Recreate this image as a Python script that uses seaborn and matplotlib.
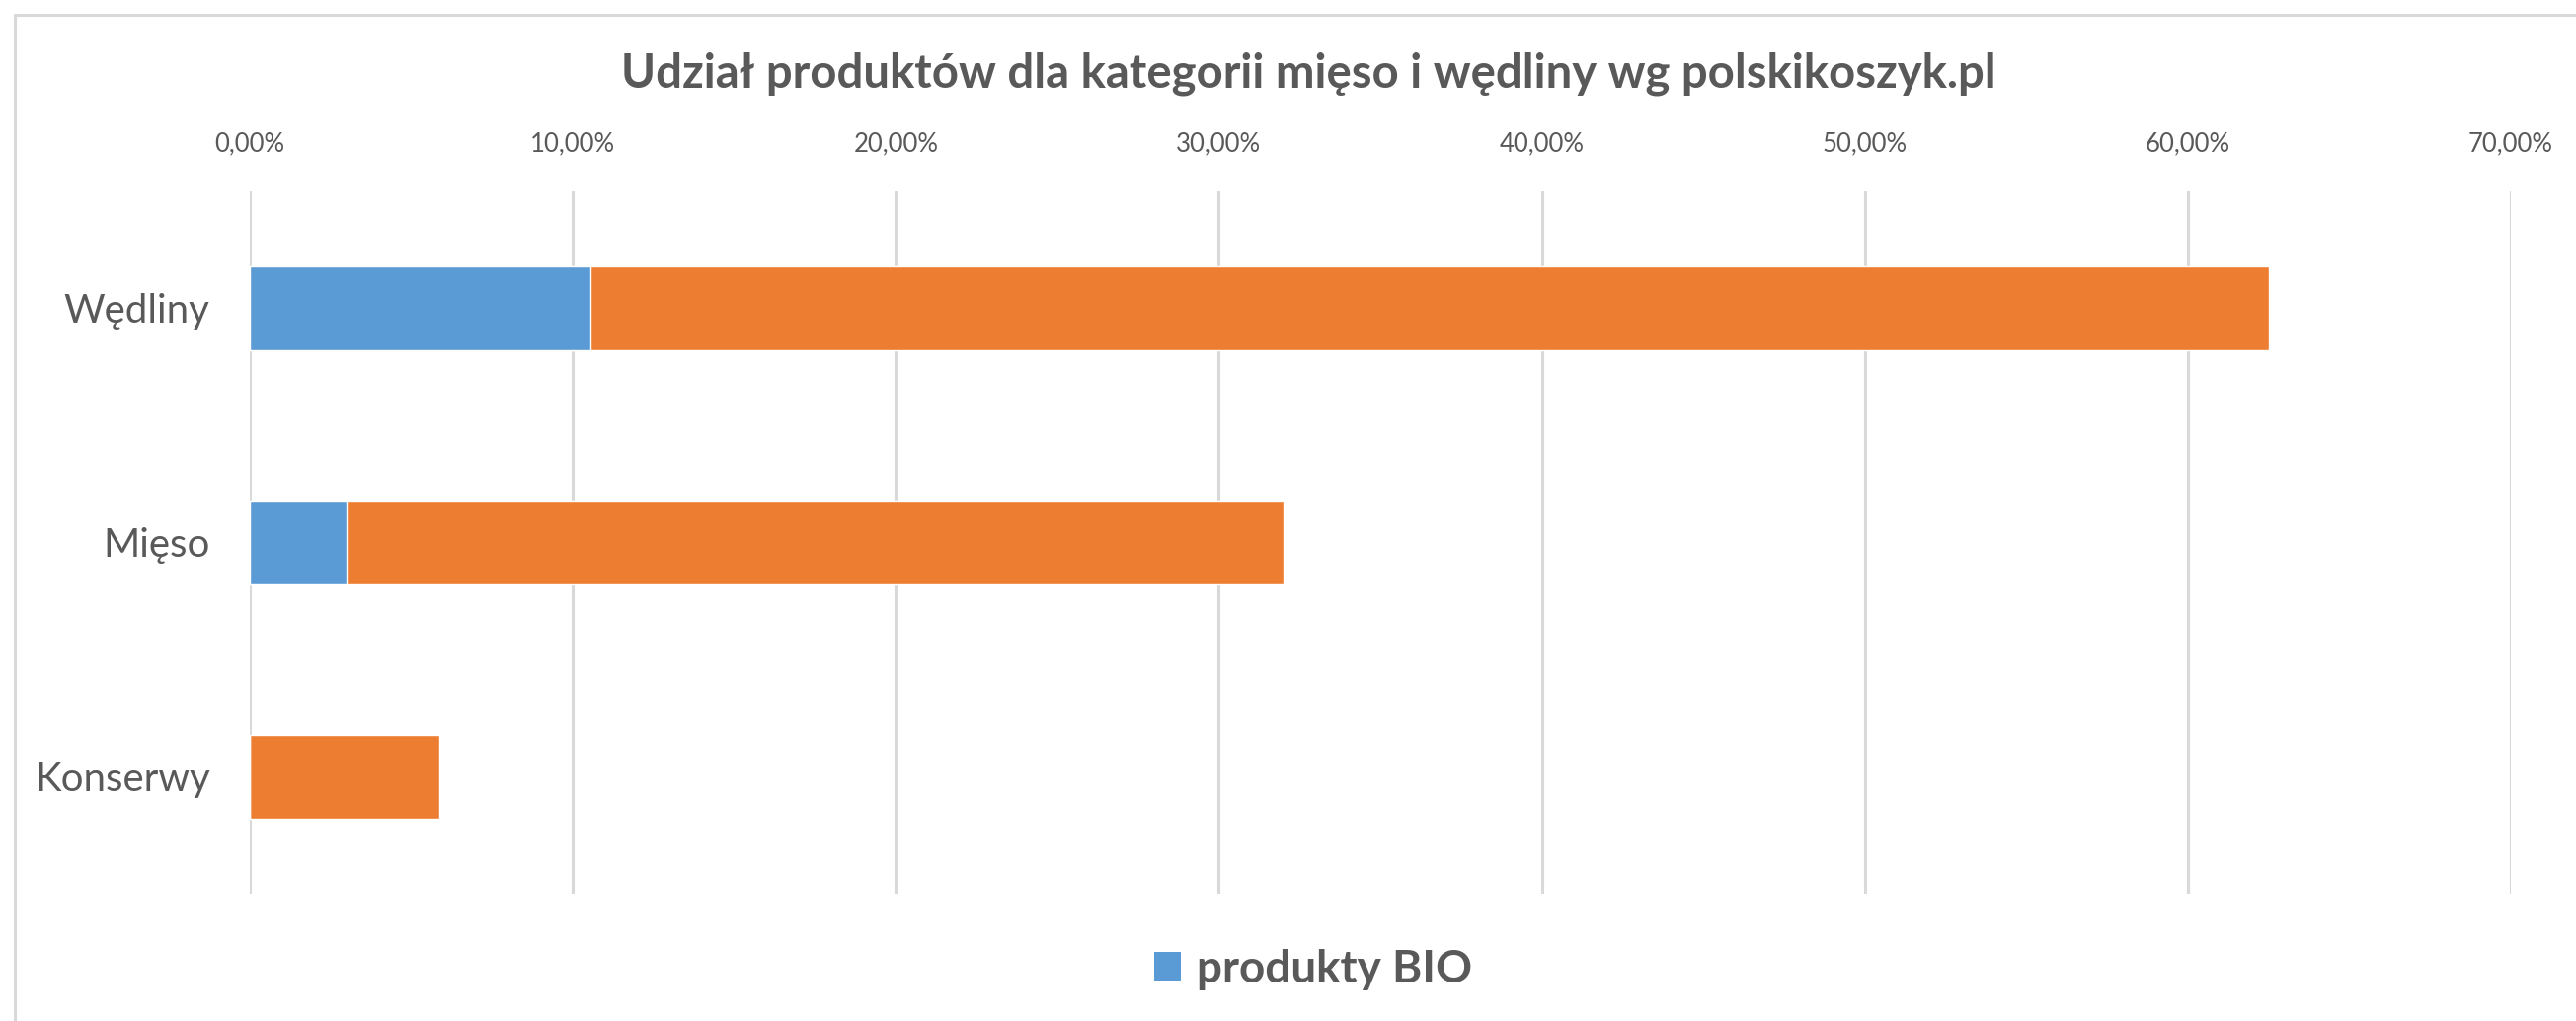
import numpy as np
import pandas as pd
import matplotlib
matplotlib.use("Agg")
import matplotlib.pyplot as plt
from matplotlib.lines import Line2D
from matplotlib.patches import Patch
from matplotlib.ticker import FuncFormatter
import seaborn as sns

# --- data (percent) ---
categories = ["Wędliny", "Mięso", "Konserwy"]
bio_share = [10.56, 3.0, 0.0]        # blue segment, "produkty BIO"
other_share = [51.94, 29.0, 5.86]    # orange segment (rest)
x_ticks = [0, 10, 20, 30, 40, 50, 60, 70]

BLUE = "#5B9BD5"
ORANGE = "#ED7D31"
TEXT = "#595959"
GRID = "#D9D9D9"

df = pd.DataFrame({
    "kategoria": categories,
    "bio": bio_share,
    "razem": np.array(bio_share) + np.array(other_share),
})

sns.set_theme(style="white")
plt.rcParams["font.family"] = ["Lato", "DejaVu Sans"]

W, H = 2609, 1034
fig = plt.figure(figsize=(W / 100, H / 100), dpi=100)
ax = fig.add_axes([253 / W, 1 - 905 / H, (2543 - 253) / W, (905 - 193) / H])

# stacked bars: total in orange, BIO on top in blue
sns.barplot(data=df, y="kategoria", x="razem", color=ORANGE, orient="h",
            width=0.357, saturation=1, ax=ax, zorder=3)
sns.barplot(data=df, y="kategoria", x="bio", color=BLUE, orient="h",
            width=0.357, saturation=1, ax=ax, zorder=4)

ax.set_xlim(0, 70)
ax.set_ylim(2.5, -0.5)
ax.set_xticks(x_ticks)
ax.xaxis.set_major_formatter(FuncFormatter(lambda v, p: f"{v:.2f}".replace(".", ",") + "%"))
ax.xaxis.tick_top()
ax.tick_params(axis="x", length=0, pad=25, labelsize=18.5, labelcolor=TEXT)
ax.tick_params(axis="y", length=0, pad=29, labelsize=29, labelcolor=TEXT)
ax.set_xlabel("")
ax.set_ylabel("")
ax.grid(axis="x", color=GRID, linewidth=2.2, zorder=0)
ax.grid(axis="y", visible=False)
for s in ax.spines.values():
    s.set_visible(False)
ax.set_axisbelow(True)

fig.text(1325 / W, 1 - 75 / H, "Udział produktów dla kategorii mięso i wędliny wg polskikoszyk.pl",
         ha="center", va="center", fontsize=34, fontweight="bold", color=TEXT)

fig.legend(handles=[Patch(facecolor=BLUE, edgecolor="none")], labels=["produkty BIO"],
           loc="center", bbox_to_anchor=(1330 / W, 1 - 982 / H), frameon=False,
           prop={"size": 33, "weight": "bold"}, labelcolor=TEXT,
           handlelength=0.6, handleheight=0.6, handletextpad=0.35)

# chart border (cropped on the right and bottom)
fig.add_artist(Line2D([15 / W, 1], [1 - 15 / H, 1 - 15 / H], color=GRID, linewidth=2.2))
fig.add_artist(Line2D([15 / W, 15 / W], [0, 1 - 15 / H], color=GRID, linewidth=2.2))

fig.savefig("out.png", dpi=100, facecolor="white")
